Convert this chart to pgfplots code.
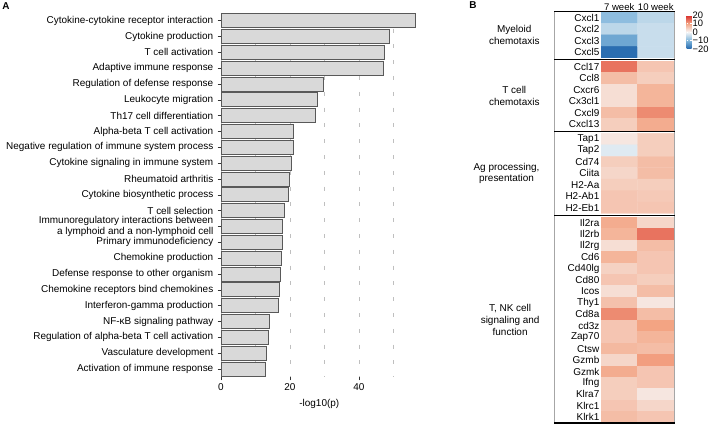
\documentclass[border=0pt]{standalone}
\usepackage{fontspec}
\setmainfont{Liberation Sans}
\usepackage{pgfplots}
\pgfplotsset{compat=1.18}
\pgfplotsset{colormap={rdbu}{rgb255(0cm)=(33,102,172) rgb255(1cm)=(130,183,220) rgb255(2cm)=(247,247,247) rgb255(3cm)=(243,164,131) rgb255(4cm)=(215,40,40)}}
\begin{document}
\begin{tikzpicture}[x=1bp,y=1bp]
\useasboundingbox (0,0) rectangle (709,426);
% ---------------- Panel A ----------------
\begin{axis}[
  at={(221bp,49.1bp)}, anchor=south west, scale only axis,
  width=196.6bp, height=364.1bp,
  xbar, bar width=14bp,
  xmin=0, xmax=57, ymin=0.5, ymax=23.5, y dir=reverse,
  axis x line*=bottom, axis y line*=left,
  axis line style={draw=none},
  ytick={1,...,23},
  yticklabels={Cytokine-cytokine receptor interaction, Cytokine production, T cell activation, Adaptive immune response, Regulation of defense response, Leukocyte migration, Th17 cell differentiation, Alpha-beta T cell activation, Negative regulation of immune system process, Cytokine signaling in immune system, Rheumatoid arthritis, Cytokine biosynthetic process, T cell selection, {Immunoregulatory interactions between\\a lymphoid and a non-lymphoid cell}, Primary immunodeficiency, Chemokine production, Defense response to other organism, Chemokine receptors bind chemokines, Interferon-gamma production, NF-κB signaling pathway, Regulation of alpha-beta T cell activation, Vasculature development, Activation of immune response},
  xtick={0,20,40}, minor xtick={10,30,50},
  xmajorgrids, xminorgrids, ymajorgrids=false,
  major grid style={gray!50, line width=0.5bp, dash pattern=on 4bp off 11.8bp},
  minor grid style={gray!50, line width=0.5bp, dash pattern=on 4bp off 11.8bp},
  tick align=outside, major tick length=3.5bp, minor tick length=0pt,
  tick style={gray!40!black, line width=0.6bp},
  /pgf/number format/assume math mode=true,
  yticklabel style={font=\fontsize{10}{10.7}\selectfont, align=right, inner sep=4bp},
  xticklabel style={font=\fontsize{10}{12}\selectfont},
  xlabel={-log10(p)},
  xlabel style={font=\fontsize{10}{12}\selectfont, yshift=-1bp},
]
\addplot[fill=gray!30, draw=gray!70!black, line width=0.8bp] coordinates {
(56.5,1) (48.9,2) (47.4,3) (47.0,4) (29.7,5) (28.0,6) (27.3,7) (20.9,8) (20.9,9) (20.5,10) (19.9,11) (19.5,12) (18.4,13) (17.8,14) (17.8,15) (17.4,16) (17.2,17) (16.9,18) (16.6,19) (13.9,20) (13.7,21) (13.1,22) (13.0,23)};
\end{axis}
% ---------------- Panel B ----------------
\begin{axis}[
  at={(601bp,3bp)}, anchor=south west, scale only axis,
  width=73bp, height=411bp,
  xmin=0.5, xmax=2.5, ymin=0.5, ymax=36.4, y dir=reverse,
  enlargelimits=false,
  axis line style={draw=none},
  major tick length=0pt, tick style={draw=none},
  xtick={1,2}, xticklabels={7 week,10 week}, xticklabel pos=upper,
  xticklabel style={font=\fontsize{9.6}{11}\selectfont, inner sep=1.5bp},
  ytick={1,2,3,4,5.3,6.3,7.3,8.3,9.3,10.3,11.6,12.6,13.6,14.6,15.6,16.6,17.6,18.9,19.9,20.9,21.9,22.9,23.9,24.9,25.9,26.9,27.9,28.9,29.9,30.9,31.9,32.9,33.9,34.9,35.9},
  yticklabels={Cxcl1,Cxcl2,Cxcl3,Cxcl5,Ccl17,Ccl8,Cxcr6,Cx3cl1,Cxcl9,Cxcl13,Tap1,Tap2,Cd74,Ciita,H2-Aa,H2-Ab1,H2-Eb1,Il2ra,Il2rb,Il2rg,Cd6,Cd40lg,Cd80,Icos,Thy1,Cd8a,cd3z,Zap70,Ctsw,Gzmb,Gzmk,Ifng,Klra7,Klrc1,Klrk1},
  yticklabel style={font=\fontsize{10}{11}\selectfont, inner sep=1.5bp},
  colormap name=rdbu, point meta min=-20, point meta max=20,
  colorbar,
  colorbar style={at={(parent axis.north east)}, anchor=north west, xshift=4bp, yshift=-3bp,
    scale only axis, width=5bp, height=34bp,
    ytick={-20,-10,0,10,20}, yticklabels={−20,−10,0,10,20},
    yticklabel style={font=\fontsize{9.4}{10}\selectfont, inner sep=1bp},
    major tick length=1.5bp, tick style={white, line width=0.6bp},
    axis line style={draw=none}},
]
\addplot[matrix plot*, mesh/cols=2, point meta=explicit] table[meta=c] {
x y c
1 1 -9
2 1 -5
1 2 -5
2 2 -4
1 3 -12
2 3 -4
1 4 -19
2 4 -4
};
\addplot[matrix plot*, mesh/cols=2, point meta=explicit] table[meta=c] {
x y c
1 5.3 14
2 5.3 6
1 6.3 7
2 6.3 5
1 7.3 3
2 7.3 8
1 8.3 3
2 8.3 8
1 9.3 7
2 9.3 12
1 10.3 5
2 10.3 9
};
\addplot[matrix plot*, mesh/cols=2, point meta=explicit] table[meta=c] {
x y c
1 11.6 2
2 11.6 5
1 12.6 -2
2 12.6 5
1 13.6 5
2 13.6 7
1 14.6 4
2 14.6 7
1 15.6 5
2 15.6 5
1 16.6 6
2 16.6 5.5
1 17.6 6
2 17.6 6
};
\addplot[matrix plot*, mesh/cols=2, point meta=explicit] table[meta=c] {
x y c
1 18.9 9
2 18.9 4
1 19.9 8
2 19.9 14
1 20.9 3
2 20.9 7
1 21.9 8
2 21.9 6
1 22.9 4.5
2 22.9 6
1 23.9 6
2 23.9 5
1 24.9 3
2 24.9 7
1 25.9 6.5
2 25.9 2
1 26.9 12
2 26.9 7
1 27.9 6
2 27.9 10
1 28.9 6
2 28.9 8
1 29.9 7.5
2 29.9 7
1 30.9 4
2 30.9 10.5
1 31.9 9
2 31.9 6
1 32.9 5
2 32.9 6
1 33.9 5
2 33.9 2
1 34.9 6
2 34.9 4
1 35.9 7
2 35.9 6
};
\end{axis}
% frame and separators of panel B
\draw[gray!70, line width=0.5bp] (554,414) -- (554,3);
\draw[gray!70, line width=0.5bp] (674.5,414) -- (674.5,3);
\draw[black, line width=1bp] (554,414) -- (674.5,414);
\draw[black, line width=1.3bp] (554,366.5) -- (674.5,366.5);
\draw[black, line width=1.3bp] (554,294.4) -- (674.5,294.4);
\draw[black, line width=1.3bp] (554,210.8) -- (674.5,210.8);
\draw[black, line width=1.5bp] (554,3) -- (674.5,3);
% group labels
\begin{scope}[every node/.style={anchor=east, align=center, font=\fontsize{10}{11.8}\selectfont}]
\node at (543,391) {Myeloid\\chemotaxis};
\node at (543,330.3) {T cell\\chemotaxis};
\node at (543,252.6) {Ag processing,\\presentation};
\node at (543,106) {T, NK cell\\signaling and\\function};
\end{scope}
\node[font=\bfseries\fontsize{10}{12}\selectfont] at (6,420) {A};
\node[font=\bfseries\fontsize{10}{12}\selectfont] at (473,421) {B};
\end{tikzpicture}
\end{document}
